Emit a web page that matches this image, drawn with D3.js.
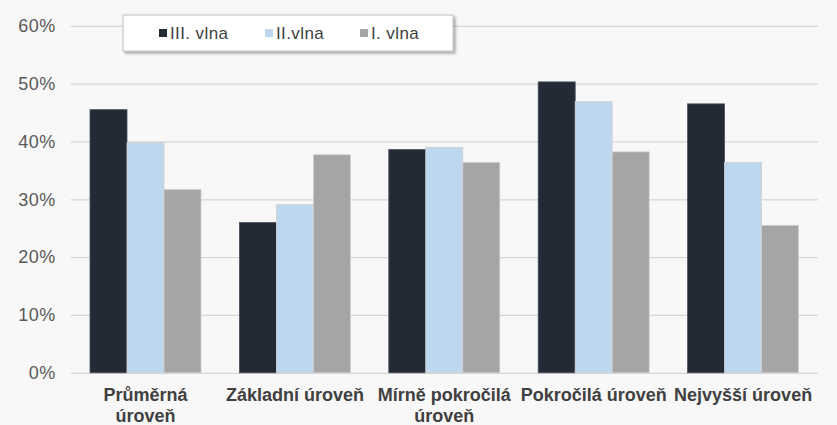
<!DOCTYPE html>
<html>
<head>
  <meta charset="utf-8">
  <script src="https://d3js.org/d3.v7.min.js"></script>
  <style>
    body { margin: 0; background: #f8f8f8; }
    svg { display: block; font-family: "Liberation Sans", Arial, sans-serif; }
  </style>
</head>
<body>
<script>
  // data
  var categories = ["Průměrná úroveň", "Základní úroveň", "Mírně pokročilá úroveň", "Pokročilá úroveň", "Nejvyšší úroveň"];
  var categoryLines = [["Průměrná", "úroveň"], ["Základní úroveň"], ["Mírně pokročilá", "úroveň"], ["Pokročilá úroveň"], ["Nejvyšší úroveň"]];
  var seriesNames = ["III. vlna", "II.vlna", "I. vlna"];
  var wave3 = [45.5, 26.0, 38.6, 50.3, 46.5];
  var wave2 = [39.8, 29.1, 39.0, 46.9, 36.4];
  var wave1 = [31.7, 37.7, 36.4, 38.2, 25.5];
  var yTicks = [0, 10, 20, 30, 40, 50, 60];
  var colors = ["#232a36", "#bdd7ee", "#a5a5a5"];

  var series = [wave3, wave2, wave1];
  var w = 837, h = 425;
  var plotL = 70.8, plotR = 817.8, plotT = 25.8, plotB = 372.8;

  var svg = d3.select("body").append("svg")
              .attr("width", w)
              .attr("height", h);

  var defs = svg.append("defs");
  var f = defs.append("filter").attr("id", "shadow").attr("x", "-5%").attr("y", "-20%").attr("width", "115%").attr("height", "160%");
  f.append("feDropShadow").attr("dx", 2).attr("dy", 2).attr("stdDeviation", 1.5).attr("flood-color", "#000").attr("flood-opacity", 0.35);

  var y = d3.scaleLinear().domain([0, 60]).range([plotB, plotT]);
  var x0 = d3.scaleBand().domain(d3.range(categories.length)).range([plotL, plotR])
             .paddingInner(0.257).paddingOuter(0.1285);
  var x1 = d3.scaleBand().domain(d3.range(series.length)).range([0, x0.bandwidth()]);

  // gridlines + y labels
  var yAxis = svg.append("g")
     .attr("transform", "translate(" + plotL + ",0)")
     .call(d3.axisLeft(y).tickValues(yTicks).tickSize(-(plotR - plotL)).tickPadding(15)
       .tickFormat(function(d) { return d + "%"; }));
  yAxis.select(".domain").remove();
  yAxis.selectAll(".tick line").attr("stroke", "#d6d6d6").attr("stroke-width", 1.3);
  yAxis.selectAll(".tick text")
       .attr("fill", "#595959")
       .style("font-size", "18px")
       .style("letter-spacing", "0.5px");

  // bars
  var groups = svg.selectAll("g.cat")
     .data(categories)
     .enter()
     .append("g")
     .attr("class", "cat")
     .attr("transform", function(d, i) { return "translate(" + x0(i) + ",0)"; });

  groups.selectAll("rect")
     .data(function(d, i) { return series.map(function(s, j) { return {s: j, v: s[i]}; }); })
     .enter()
     .append("rect")
     .attr("x", function(d) { return x1(d.s); })
     .attr("y", function(d) { return y(d.v); })
     .attr("width", x1.bandwidth())
     .attr("height", function(d) { return plotB - y(d.v); })
     .attr("fill", function(d) { return colors[d.s]; })
     .attr("stroke", function(d) { return d.s == 0 ? "#4a5260" : "#d0d0d0"; })
     .attr("stroke-width", 0.8);

  // x labels
  groups.append("text")
     .attr("x", x0.bandwidth() / 2)
     .attr("y", 401)
     .attr("text-anchor", "middle")
     .attr("fill", "#404040")
     .style("font-size", "18px")
     .style("font-weight", "bold")
     .selectAll("tspan")
     .data(function(d, i) { return categoryLines[i]; })
     .enter()
     .append("tspan")
     .attr("x", x0.bandwidth() / 2)
     .attr("dy", function(d, i) { return i == 0 ? 0 : 20.5; })
     .text(function(d) { return d; });

  // legend
  var legend = svg.append("g").attr("transform", "translate(123,15)");
  legend.append("rect")
     .attr("width", 330).attr("height", 36)
     .attr("fill", "#fff")
     .attr("stroke", "#c0c0c0")
     .attr("filter", "url(#shadow)");
  var lx = [36, 142, 237];
  var items = legend.selectAll("g.item")
     .data(seriesNames)
     .enter()
     .append("g")
     .attr("class", "item")
     .attr("transform", function(d, i) { return "translate(" + lx[i] + ",0)"; });
  items.append("rect")
     .attr("y", 14).attr("width", 8).attr("height", 8)
     .attr("fill", function(d, i) { return colors[i]; });
  items.append("text")
     .attr("x", 11).attr("y", 23.5)
     .attr("fill", "#404040")
     .style("font-size", "17px")
     .style("letter-spacing", "0.4px")
     .text(function(d) { return d; });
</script>
</body>
</html>
